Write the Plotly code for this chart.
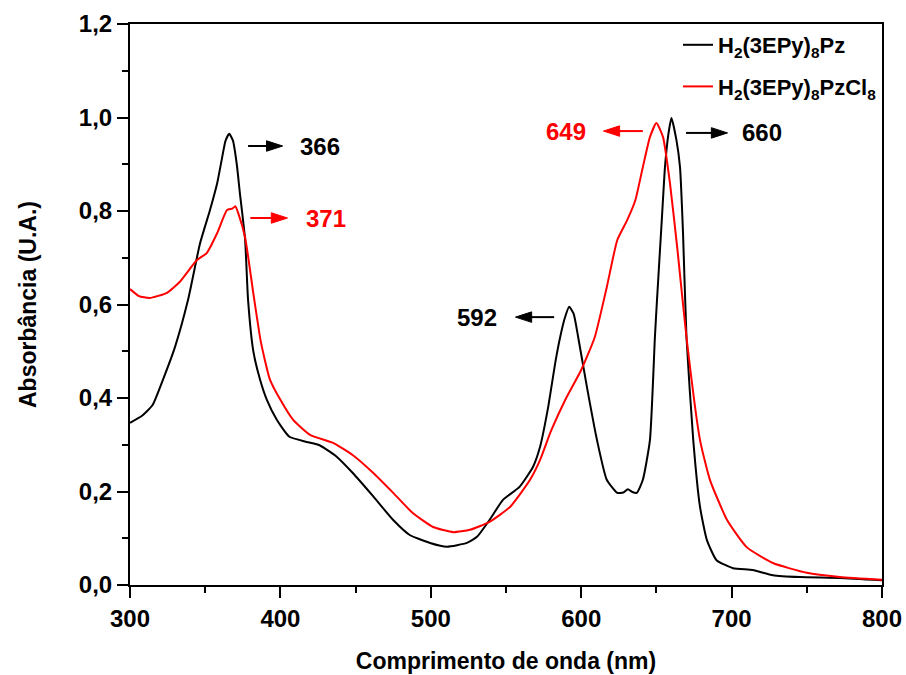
import plotly.graph_objects as go

# Black: H2(3EPy)8Pz
wl_black = [300, 308, 315, 322, 330, 338.6, 346.5, 353, 358, 361, 363.5, 366, 368.5, 371, 373, 376.5, 378.5,
            382, 386.4, 391, 397.7, 406, 417.5, 426, 437.6, 448, 461.6, 475, 486, 499.5, 510.7, 524, 530.7,
            539, 548, 559, 568, 572.6, 578, 583, 586, 589, 592, 595, 598, 604, 610.5, 617, 624, 628, 631, 634, 637, 641,
            645.7, 649, 650.4, 653.7, 655.7, 658, 660, 663.3, 665.7, 667.7, 670, 674.5, 679, 683.6, 690, 701, 714, 727.5,
            745.5, 772, 800]
ab_black = [0.347, 0.362, 0.385, 0.44, 0.51, 0.61, 0.73, 0.80, 0.86, 0.91, 0.95, 0.965, 0.95, 0.90, 0.84, 0.74, 0.61,
            0.50, 0.44, 0.396, 0.353, 0.317, 0.306, 0.299, 0.274, 0.24, 0.19, 0.139, 0.107, 0.09, 0.082, 0.09, 0.103,
            0.139, 0.182, 0.21, 0.253, 0.295, 0.38, 0.48, 0.53, 0.57, 0.595, 0.58, 0.53, 0.42, 0.31, 0.225, 0.197, 0.198, 0.205, 0.199, 0.197, 0.225,
            0.31, 0.53, 0.61, 0.787, 0.894, 0.965, 0.999, 0.952, 0.894, 0.753, 0.53, 0.31, 0.167, 0.096, 0.053, 0.036, 0.032, 0.021,
            0.017, 0.015, 0.010]

# Red: H2(3EPy)8PzCl8
wl_red = [300, 306, 313, 324.6, 333, 344.5, 351, 358, 364.5, 368, 370, 372, 376.5, 382, 387, 393, 400, 408.5,
          419.7, 435, 448, 461.6, 475, 488, 501.5, 515, 526, 539, 552.7, 566, 572.6, 580, 590, 600, 609,
          617, 624, 630.5, 636, 641, 645.7, 650, 654.4, 659, 664, 670, 679, 685.6, 697, 710, 727.5,
          750, 772, 800]
ab_red = [0.633, 0.618, 0.614, 0.625, 0.648, 0.695, 0.71, 0.753, 0.802, 0.805, 0.81, 0.795, 0.744, 0.624, 0.52, 0.44, 0.396, 0.353,
          0.321, 0.304, 0.278, 0.24, 0.197, 0.154, 0.124, 0.113, 0.118, 0.135, 0.167, 0.225, 0.267, 0.33, 0.40, 0.46, 0.53,
          0.637, 0.738, 0.78, 0.823, 0.894, 0.958, 0.988, 0.958, 0.86, 0.717, 0.53, 0.31, 0.225, 0.139, 0.081, 0.047,
          0.026, 0.017, 0.011]

# Peak annotations: label, text x, y, arrow tail x, arrow head x, colour
peak_labels = ["366", "371", "649", "660", "592"]
peak_text_x = [426, 430, 590, 720, 531]
peak_y = [0.939, 0.785, 0.971, 0.967, 0.573]
arrow_tail_x = [378.5, 380, 641, 669.7, 582]
arrow_head_x = [401.5, 404.7, 614.8, 697.3, 556.3]
peak_colors = ["black", "red", "red", "black", "black"]

x_tick_vals = [300, 400, 500, 600, 700, 800]
y_tick_vals = [0.0, 0.2, 0.4, 0.6, 0.8, 1.0, 1.2]

font_family = "Liberation Sans, Arial, sans-serif"

fig = go.Figure()
fig.add_trace(go.Scatter(x=wl_black, y=ab_black, mode="lines",
                         line=dict(color="black", width=2, shape="spline", smoothing=0.5),
                         name="<b>H<sub>2</sub>(3EPy)<sub>8</sub>Pz</b>", legendgroup="a"))
fig.add_trace(go.Scatter(x=wl_red, y=ab_red, mode="lines",
                         line=dict(color="red", width=2, shape="spline", smoothing=0.5),
                         name="<b>H<sub>2</sub>(3EPy)<sub>8</sub>PzCl<sub>8</sub></b>", legendgroup="b"))

for lab, tx, y, t0, t1, c in zip(peak_labels, peak_text_x, peak_y, arrow_tail_x, arrow_head_x, peak_colors):
    fig.add_trace(go.Scatter(x=[t0, t1], y=[y, y], mode="lines+markers",
                             line=dict(color=c, width=2),
                             marker=dict(symbol="arrow", angleref="previous", size=[0, 17], color=c,
                                         opacity=1, line=dict(width=1, color=c)),
                             showlegend=False, hoverinfo="skip"))
    fig.add_annotation(x=tx, y=y, xref="x", yref="y", text=f"<b>{lab}</b>", showarrow=False,
                       font=dict(family=font_family, size=24, color=c))

axis_common = dict(showline=True, linecolor="black", linewidth=2, mirror=True, ticks="outside",
                   tickwidth=2, ticklen=11, tickcolor="black", showgrid=False, zeroline=False,
                   automargin=False, tickfont=dict(family=font_family, size=24, color="black"))

fig.update_xaxes(range=[300, 800], tickvals=x_tick_vals,
                 ticktext=[f"<b>{v}</b>" for v in x_tick_vals],
                 minor=dict(dtick=50, ticks="outside", ticklen=6, tickwidth=2, tickcolor="black"),
                 title=dict(text="<b>Comprimento de onda (nm)</b>",
                            font=dict(family=font_family, size=23, color="black"), standoff=22),
                 **axis_common)
fig.update_yaxes(range=[0, 1.2], tickvals=y_tick_vals,
                 ticktext=[f"<b>{v:.1f}</b>".replace(".", ",") for v in y_tick_vals],
                 minor=dict(dtick=0.1, ticks="outside", ticklen=6, tickwidth=2, tickcolor="black"),
                 title=dict(text="<b>Absorbância (U.A.)</b>",
                            font=dict(family=font_family, size=23, color="black"), standoff=36),
                 **axis_common)

fig.update_layout(width=906, height=675, margin=dict(l=130, r=24, t=24, b=90),
                  plot_bgcolor="white", paper_bgcolor="white",
                  legend=dict(x=1.0, y=1.0, xanchor="right", yanchor="top", bgcolor="rgba(0,0,0,0)",
                              font=dict(family=font_family, size=22, color="black"), tracegroupgap=10),
                  showlegend=True)

fig.write_html("out.html", config={"displayModeBar": False},
               post_script="document.body.style.margin='0';document.body.style.overflow='hidden';")
